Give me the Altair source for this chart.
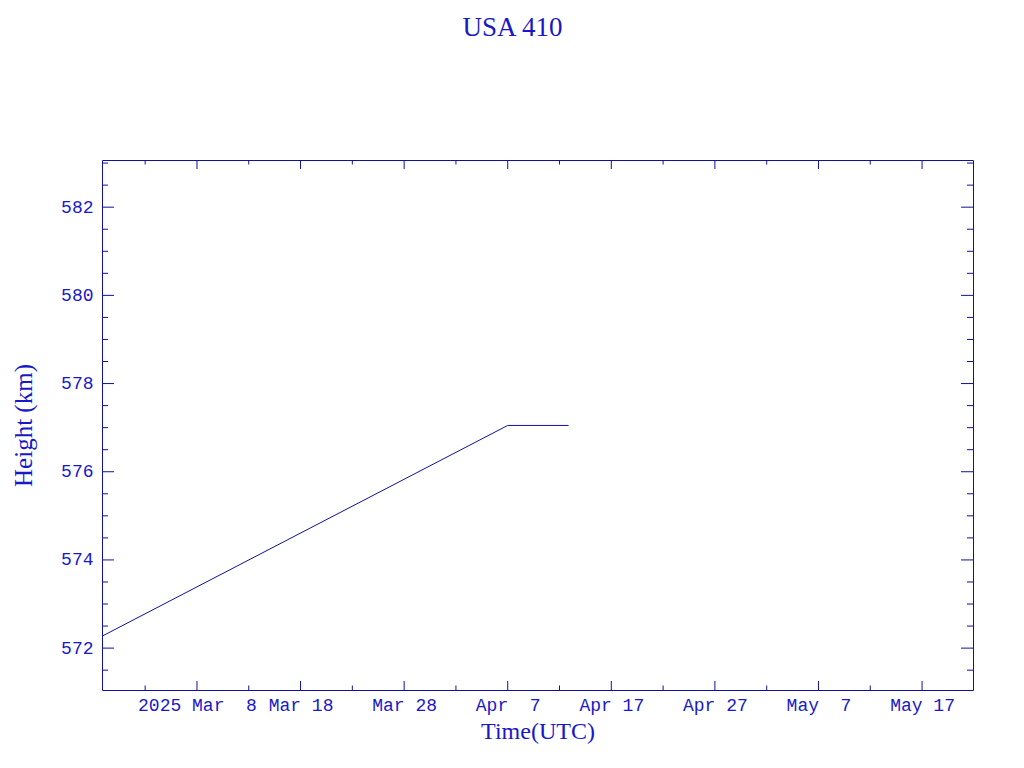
import json
import altair as alt
import pandas as pd

# ---- data ----
chart_title = "USA 410"
line_times = ["2025-02-26T20:00:00Z", "2025-04-07T00:00:00Z", "2025-04-12T21:00:00Z"]
line_heights = [572.27, 577.05, 577.05]

x_domain = ["2025-02-26T20:00:00Z", "2025-05-21T22:00:00Z"]
y_domain = [571.05, 583.07]

x_major_dates = ["2025-03-08T00:00:00Z", "2025-03-18T00:00:00Z", "2025-03-28T00:00:00Z",
                 "2025-04-07T00:00:00Z", "2025-04-17T00:00:00Z", "2025-04-27T00:00:00Z",
                 "2025-05-07T00:00:00Z", "2025-05-17T00:00:00Z"]
x_major_labels = ["2025 Mar\u00a0\u00a08", "Mar 18", "Mar 28", "Apr\u00a0\u00a07",
                  "Apr 17", "Apr 27", "May\u00a0\u00a07", "May 17"]
x_minor_dates = ["2025-03-03T00:00:00Z", "2025-03-13T00:00:00Z", "2025-03-23T00:00:00Z",
                 "2025-04-02T00:00:00Z", "2025-04-12T00:00:00Z", "2025-04-22T00:00:00Z",
                 "2025-05-02T00:00:00Z", "2025-05-12T00:00:00Z"]

y_major = [572, 574, 576, 578, 580, 582]
y_minor = [571.5, 572.5, 573, 573.5, 574.5, 575, 575.5, 576.5, 577, 577.5,
           578.5, 579, 579.5, 580.5, 581, 581.5, 582.5, 583]

# ---- style ----
FRAME = "#10109a"
TEXT = "#1818c8"
W, H = 871, 530
MONO = "Liberation Mono"
SERIF = "Liberation Serif"


def ms(s):
    return int(pd.Timestamp(s).value // 10**6)


xscale = alt.Scale(type="utc", domain=[ms(d) for d in x_domain], nice=False)
yscale = alt.Scale(domain=y_domain, nice=False, zero=False)

label_map = {pd.Timestamp(d).strftime("%Y-%m-%d"): l for d, l in zip(x_major_dates, x_major_labels)}
label_expr = json.dumps(label_map, ensure_ascii=False) + "[utcFormat(datum.value, '%Y-%m-%d')]"

x_axis = alt.Axis(
    values=[ms(d) for d in x_major_dates], labelExpr=label_expr,
    ticks=False, domain=False, grid=False,
    labelFont=MONO, labelFontSize=18, labelColor=TEXT, labelPadding=6,
    labelFlush=False, labelOverlap=False, labelBound=False,
    title="Time(UTC)", titleFont=SERIF, titleFontSize=24, titleFontWeight="normal",
    titleColor=TEXT, titleX=W / 2, titleY=48, titleBaseline="alphabetic",
    titleAlign="center")
y_axis = alt.Axis(
    values=y_major, format="d", ticks=False, domain=False, grid=False,
    labelFont=MONO, labelFontSize=18, labelColor=TEXT, labelPadding=9,
    labelFlush=False, labelOverlap=False,
    title="Height (km)", titleFont=SERIF, titleFontSize=25, titleFontWeight="normal",
    titleColor=TEXT, titleX=-71, titleY=H / 2, titleAngle=270,
    titleBaseline="alphabetic", titleAlign="center")

line_df = pd.DataFrame({"t": line_times, "h": line_heights})

line = alt.Chart(line_df).mark_line(color=FRAME, strokeWidth=1, clip=True).encode(
    x=alt.X("t:T", scale=xscale, axis=x_axis),
    y=alt.Y("h:Q", scale=yscale, axis=y_axis),
)

xmaj = pd.DataFrame({"t": x_major_dates})
xmin = pd.DataFrame({"t": x_minor_dates})
ymaj = pd.DataFrame({"h": y_major})
ymin = pd.DataFrame({"h": y_minor})


def xticks(df, length):
    bottom = alt.Chart(df).mark_rule(color=FRAME, strokeWidth=1).encode(
        x=alt.X("t:T", scale=xscale, axis=x_axis),
        y=alt.value(H), y2=alt.value(H - length))
    top = alt.Chart(df).mark_rule(color=FRAME, strokeWidth=1).encode(
        x=alt.X("t:T", scale=xscale, axis=x_axis),
        y=alt.value(0), y2=alt.value(length))
    return [bottom, top]


def yticks(df, length):
    left = alt.Chart(df).mark_rule(color=FRAME, strokeWidth=1).encode(
        y=alt.Y("h:Q", scale=yscale, axis=y_axis),
        x=alt.value(0), x2=alt.value(length))
    right = alt.Chart(df).mark_rule(color=FRAME, strokeWidth=1).encode(
        y=alt.Y("h:Q", scale=yscale, axis=y_axis),
        x=alt.value(W), x2=alt.value(W - length))
    return [left, right]


layers = [line] + xticks(xmaj, 9) + xticks(xmin, 4.5) + yticks(ymaj, 12) + yticks(ymin, 6)

chart = alt.layer(*layers).properties(
    width=W, height=H,
    title=alt.TitleParams(chart_title, font=SERIF, fontSize=27, fontWeight="normal",
                          color=TEXT, anchor="middle", dx=-25, offset=97,
                          baseline="alphabetic"),
    autosize=alt.AutoSizeParams(type="none"),
    padding={"left": 94, "top": 152, "right": 30, "bottom": 60},
    background="white",
).configure_view(stroke=FRAME, strokeWidth=1)

chart.save("out.html", embed_options={"renderer": "svg", "actions": False})
